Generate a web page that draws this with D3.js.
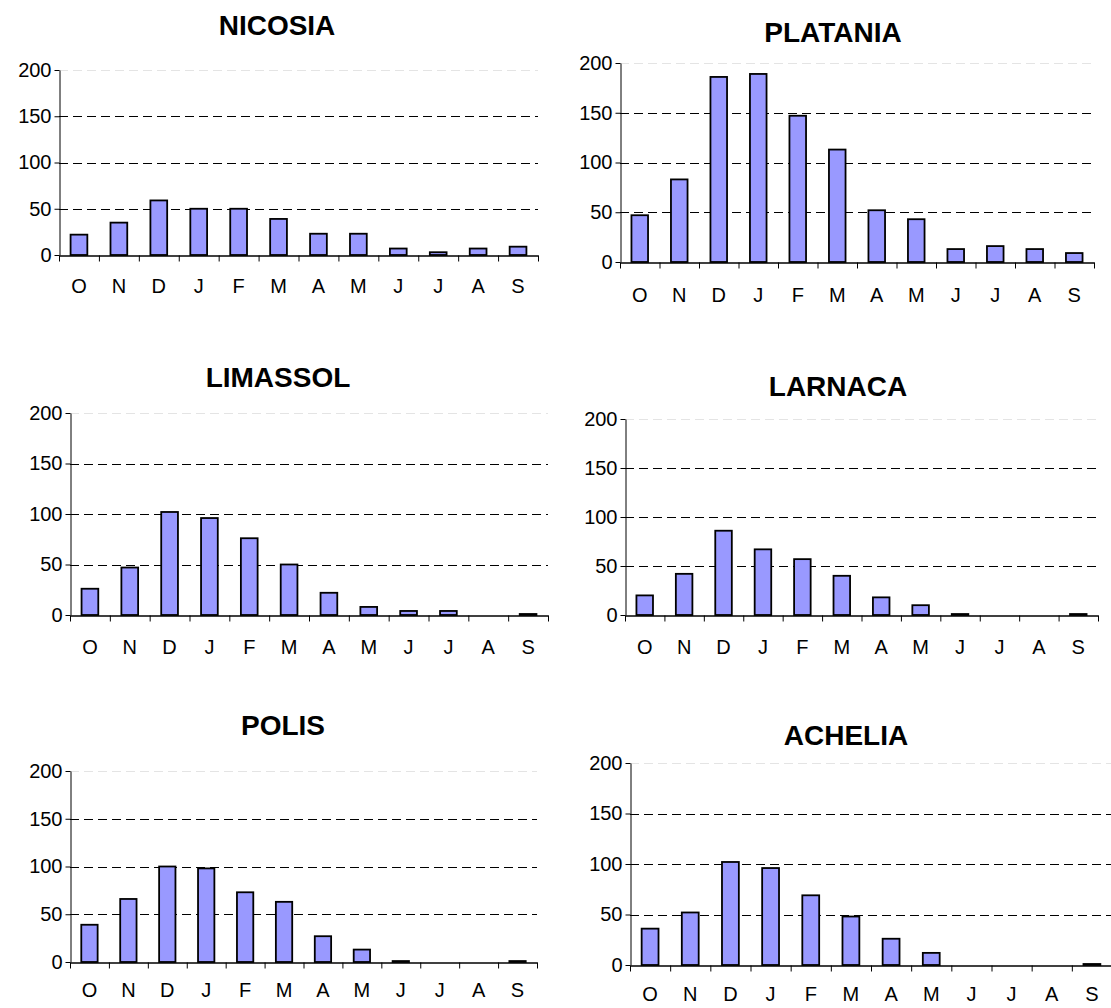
<!DOCTYPE html>
<html>
<head>
<meta charset="utf-8">
<script src="https://cdn.jsdelivr.net/npm/d3@7"></script>
<style>
  html, body { margin: 0; padding: 0; background: #ffffff; }
  svg { display: block; }
  text { font-family: "Liberation Sans", Arial, sans-serif; fill: #000; }
</style>
</head>
<body>
<svg id="chart" width="1111" height="1008"></svg>
<script>
// ---- Data ----
const months = ["O", "N", "D", "J", "F", "M", "A", "M", "J", "J", "A", "S"];
const stations = ["NICOSIA", "PLATANIA", "LIMASSOL", "LARNACA", "POLIS", "ACHELIA"];
const nicosia  = [22, 35, 59, 50, 50, 39, 23, 23, 7, 3, 7, 9];
const platania = [47, 83, 186, 189, 147, 113, 52, 43, 13, 16, 13, 9];
const limassol = [26, 47, 102, 96, 76, 50, 22, 8, 4, 4, 0, 1];
const larnaca  = [20, 42, 86, 67, 57, 40, 18, 10, 1, 0, 0, 1];
const polis    = [39, 66, 100, 98, 73, 63, 27, 13, 1, 0, 0, 1];
const achelia  = [36, 52, 102, 96, 69, 48, 26, 12, 0, 0, 0, 1];
const yTicks   = [0, 50, 100, 150, 200];
const yMax = 200;

const seriesList = [nicosia, platania, limassol, larnaca, polis, achelia];

// ---- Layout (pixel geometry of each small chart) ----
const layout = [
  { x0: 59,  x1: 538,  yTop: 70,  yBot: 255, tx: 277, ty: 35,  lp: 24 },
  { x0: 620, x1: 1094, yTop: 63,  yBot: 262, tx: 833, ty: 42,  lp: 26 },
  { x0: 70,  x1: 548,  yTop: 413, yBot: 615, tx: 278, ty: 387, lp: 25 },
  { x0: 625, x1: 1098, yTop: 419, yBot: 615, tx: 838, ty: 396, lp: 25 },
  { x0: 70,  x1: 537,  yTop: 771, yBot: 962, tx: 283, ty: 735, lp: 21 },
  { x0: 630, x1: 1112, yTop: 763, yBot: 965, tx: 846, ty: 745, lp: 22 }
];

const svg = d3.select("#chart");
svg.append("rect").attr("width", 1111).attr("height", 1008).attr("fill", "#fff");

stations.forEach((name, i) => {
  const L = layout[i];
  const data = months.map((m, j) => ({ idx: j, month: m, value: seriesList[i][j] }));
  const g = svg.append("g");

  const x = d3.scaleBand()
    .domain(d3.range(months.length))
    .range([L.x0, L.x1])
    .paddingInner(0.58)
    .paddingOuter(0.29);
  const xb = d3.scaleLinear().domain([0, months.length]).range([L.x0, L.x1]);
  const y = d3.scaleLinear().domain([0, yMax]).range([L.yBot, L.yTop]);

  // gridlines
  g.append("g").selectAll("line")
    .data(yTicks.filter(t => t > 0))
    .join("line")
    .attr("x1", L.x0).attr("x2", L.x1)
    .attr("y1", d => Math.round(y(d)) + 0.5).attr("y2", d => Math.round(y(d)) + 0.5)
    .attr("stroke", d => d === yMax ? "#e4e4e4" : "#000")
    .attr("stroke-width", 1)
    .attr("stroke-dasharray", "9,5");

  // bars
  g.append("g").selectAll("rect")
    .data(data.filter(d => d.value > 0))
    .join("rect")
    .attr("x", d => x(d.idx))
    .attr("width", x.bandwidth())
    .attr("y", d => y(d.value))
    .attr("height", d => y(0) - y(d.value))
    .attr("fill", "#9999ff")
    .attr("stroke", "#000")
    .attr("stroke-width", 1.8);

  // y axis
  const ya = g.append("g")
    .attr("transform", `translate(${Math.round(L.x0) + 0.5},0)`)
    .call(d3.axisLeft(y).tickValues(yTicks).tickSize(5).tickSizeOuter(0).tickPadding(3));
  ya.select(".domain").attr("stroke", "#000");
  ya.selectAll(".tick line").attr("stroke", "#000");
  ya.selectAll("text").attr("font-size", 20)
    .style("font-family", "'Liberation Sans', Arial, sans-serif").attr("fill", "#000");

  // x axis line with boundary ticks
  const xa = g.append("g")
    .attr("transform", `translate(0,${Math.round(L.yBot) + 0.5})`)
    .call(d3.axisBottom(xb).tickValues(d3.range(months.length + 1)).tickSize(6).tickSizeOuter(0).tickFormat(""));
  xa.select(".domain").attr("stroke", "#000").attr("stroke-width", 1.3);
  xa.selectAll(".tick line").attr("stroke", "#000");

  // month labels
  const xl = g.append("g")
    .attr("transform", `translate(0,${L.yBot})`)
    .call(d3.axisBottom(x).tickSize(0).tickPadding(L.lp).tickFormat(j => months[j]));
  xl.select(".domain").remove();
  xl.selectAll("text").attr("font-size", 20)
    .style("font-family", "'Liberation Sans', Arial, sans-serif").attr("fill", "#000");

  // title
  g.append("text")
    .attr("x", L.tx).attr("y", L.ty)
    .attr("text-anchor", "middle")
    .attr("font-size", 28)
    .attr("font-weight", "bold")
    .text(name);
});
</script>
</body>
</html>
